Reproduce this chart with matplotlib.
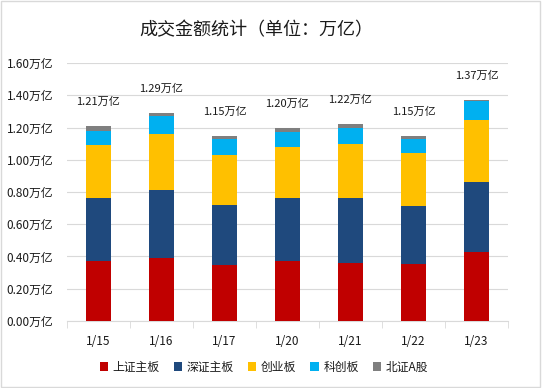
"""
Turnover stacked bars by board, 1/15 - 1/23.
"""
import matplotlib
matplotlib.use("Agg")
import matplotlib.pyplot as plt
import numpy as np
from matplotlib.patches import Rectangle
from matplotlib.ticker import FuncFormatter

plt.rcParams['font.family'] = ['Noto Sans CJK SC', 'DejaVu Sans']

# data (万亿)
dates = ['1/15', '1/16', '1/17', '1/20', '1/21', '1/22', '1/23']
sh_main = [0.37, 0.39, 0.35, 0.37, 0.36, 0.355, 0.43]
sz_main = [0.39, 0.42, 0.37, 0.39, 0.40, 0.36, 0.43]
chinext = [0.33, 0.35, 0.31, 0.32, 0.335, 0.325, 0.385]
star = [0.09, 0.11, 0.10, 0.09, 0.105, 0.09, 0.12]
bse = [0.03, 0.02, 0.02, 0.03, 0.02, 0.02, 0.005]
totals = [1.21, 1.29, 1.15, 1.20, 1.22, 1.15, 1.37]

series = [
    ('上证主板', sh_main, '#C00000'),
    ('深证主板', sz_main, '#1F497D'),
    ('创业板', chinext, '#FFC000'),
    ('科创板', star, '#00B0F0'),
    ('北证A股', bse, '#7F7F7F'),
]
txt = '#1A1A1A'

fig = plt.figure(figsize=(5.42, 3.88), dpi=100)
ax = fig.add_axes([0.1236, 0.1727, 0.8137, 0.6649])

x = np.arange(len(dates))
bottom = np.zeros(len(dates))
for name, vals, color in series:
    ax.bar(x, vals, width=0.41, bottom=bottom, color=color, label=name, zorder=3)
    bottom += np.array(vals)

for xi, t in zip(x, totals):
    ax.text(xi, t + 0.15, '%.2f万亿' % t, ha='center', va='center',
            fontsize=8, color=txt)

ax.set_ylim(0, 1.6)
ax.set_xlim(-0.5, len(dates) - 0.5)
ax.set_yticks(np.arange(0, 1.61, 0.2))
ax.yaxis.set_major_formatter(FuncFormatter(lambda v, p: '%.2f万亿' % v))
ax.grid(axis='y', color='#D9D9D9', linewidth=0.8, zorder=0)
ax.set_xticks(x)
ax.set_xticklabels(dates)
ax.set_xticks(np.arange(-0.5, len(dates)), minor=True)
ax.tick_params(axis='x', which='major', length=0, pad=10, labelsize=8.5, colors=txt)
ax.tick_params(axis='x', which='minor', length=5, color='#D9D9D9')
ax.tick_params(axis='y', length=0, pad=10, labelsize=8.5, colors=txt)
for s in ['top', 'right', 'left']:
    ax.spines[s].set_visible(False)
ax.spines['bottom'].set_color('#D9D9D9')

fig.text(0.472, 0.923, '成交金额统计（单位：万亿）', ha='center', va='center',
         fontsize=13, color=txt)

fig.legend(loc='center', bbox_to_anchor=(0.487, 0.054), ncol=5, frameon=False,
           fontsize=8.5, handlelength=0.7, handleheight=0.7, handletextpad=0.4,
           columnspacing=1.2, labelcolor=txt)

fig.patches.append(Rectangle((0.002, 0.003), 0.995, 0.994, transform=fig.transFigure,
                             fill=False, edgecolor='#D9D9D9', linewidth=1))

fig.savefig('out.png', dpi=100)
